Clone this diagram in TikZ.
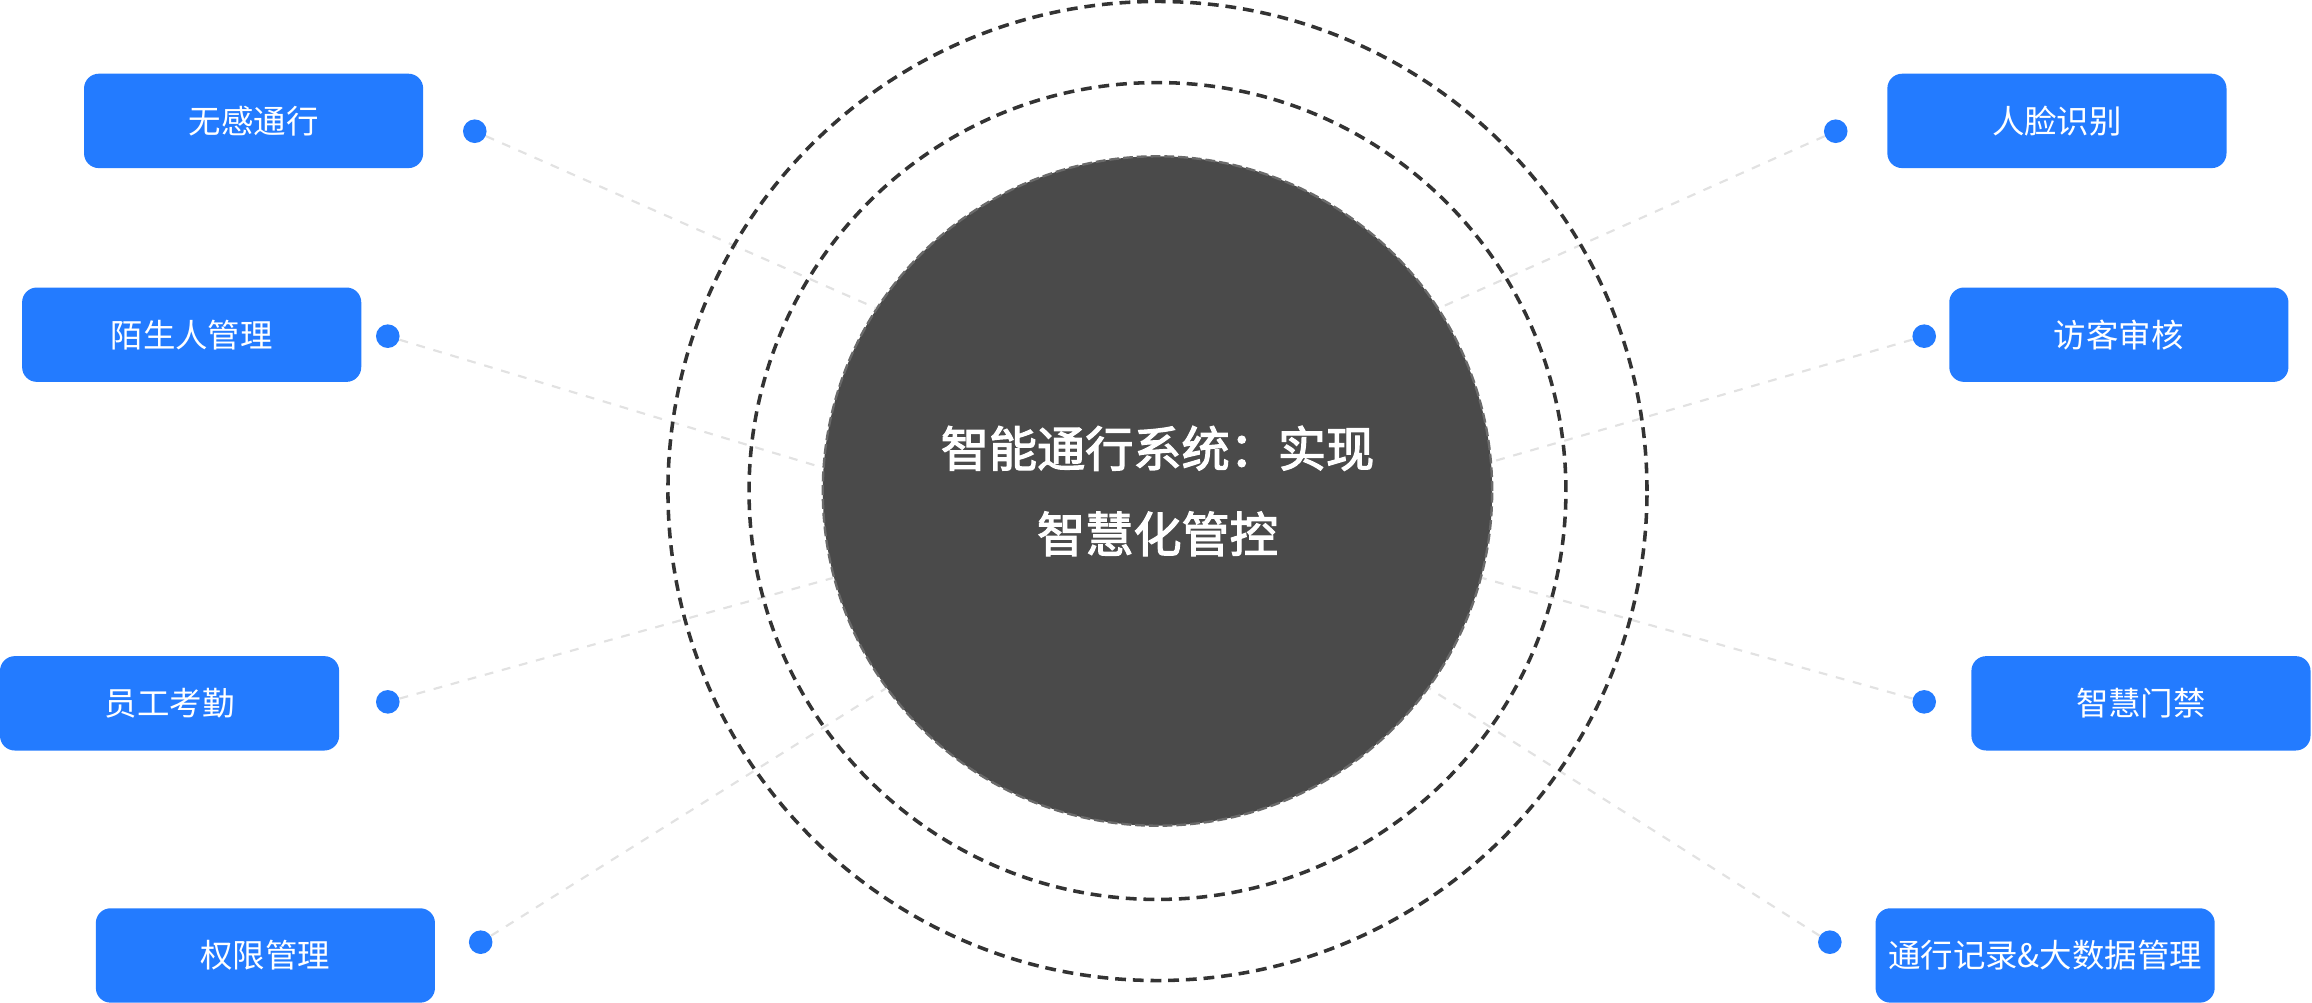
\documentclass[tikz,border=0pt]{standalone}
\usepackage{fontspec}
\setmainfont{Noto Sans CJK SC}
\newfontfamily\corefont[UprightFeatures={FakeBold=2.5}]{Noto Sans CJK SC}
\definecolor{boxblue}{HTML}{237BFF}
\definecolor{coregray}{HTML}{4A4A4A}
\definecolor{coreedge}{HTML}{6A6A6A}
\definecolor{ringgray}{HTML}{333333}
\definecolor{linkgray}{HTML}{E2E2E2}

\begin{document}
\begin{tikzpicture}[x=0.75pt,y=0.75pt,
  item/.style={fill=boxblue,rounded corners=7.5pt,minimum width=172.5pt,minimum height=48pt,
    inner sep=0pt,text=white,font=\fontsize{16.5}{20}\selectfont},
  dot/.style={circle,fill=boxblue,minimum size=12pt,inner sep=0pt},
  link/.style={linkgray,line width=1.1pt,dash pattern=on 4.5pt off 4.5pt},
  ring/.style={ringgray,line width=1.8pt,dash pattern=on 5.5pt off 3.5pt}]
\useasboundingbox (0,0) rectangle (1568,-680);
\coordinate (O) at (785,-333);
\node[circle,fill=coregray,draw=coreedge,line width=1.2pt,dash pattern=on 5pt off 2pt,
  minimum size=340.5pt,inner sep=0pt,text=white,align=center,
  font=\fontsize{24.5}{43.5}\selectfont\corefont] (core) at (O) {智能通行系统：实现\\智慧化管控};
% left items
\node[item] (wugan) at (172,-82) {无感通行};
\node[item] (moshengren) at (130,-227) {陌生人管理};
\node[item] (kaoqin) at (115,-477) {员工考勤};
\node[item] (quanxian) at (180,-648) {权限管理};
\node[dot] (d1) at (322,-89) {};
\node[dot] (d2) at (263,-228) {};
\node[dot] (d3) at (263,-476) {};
\node[dot] (d4) at (326,-639) {};
% right items
\node[item] (renlian) at (1395,-82) {人脸识别};
\node[item] (fangke) at (1437,-227) {访客审核};
\node[item] (menjin) at (1452,-477) {智慧门禁};
\node[item] (jilu) at (1387,-648) {通行记录\&大数据管理};
\node[dot] (d5) at (1245,-89) {};
\node[dot] (d6) at (1305,-228) {};
\node[dot] (d7) at (1305,-476) {};
\node[dot] (d8) at (1241,-639) {};
% links
\draw[link] (d1) -- (core.147);
\draw[link] (d2) -- (core.176);
\draw[link] (d3) -- (core.195);
\draw[link] (d4) -- (core.216);
\draw[link] (d5) -- (core.33);
\draw[link] (d6) -- (core.5);
\draw[link] (d7) -- (core.-15);
\draw[link] (d8) -- (core.-36);
% rings
\draw[ring] (O) circle[radius=277];
\draw[ring] (O) circle[radius=332];
\end{tikzpicture}
\end{document}
